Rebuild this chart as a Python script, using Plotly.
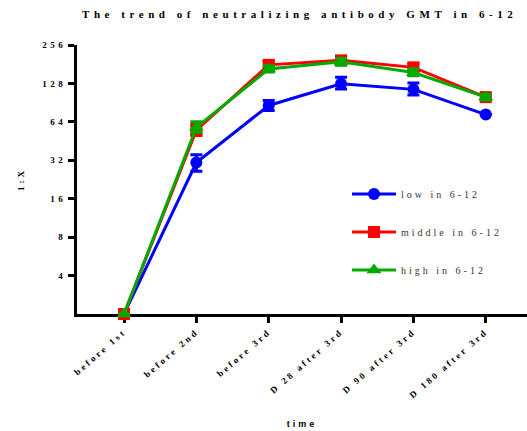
import math
import plotly.graph_objects as go

# Sampling time points
time_points = ["before 1st", "before 2nd", "before 3rd",
               "D 28 after 3rd", "D 90 after 3rd", "D 180 after 3rd"]

# GMT (1:X) per dose group
low_gmt = [2, 30.7, 86, 127, 115, 73]
low_err_plus = [0, 4.6, 8, 16, 14, 0]
low_err_minus = [0, 4.5, 7.5, 11, 11, 0]

middle_gmt = [2, 55, 179, 194, 171, 100]
middle_err_plus = [0, 6, 12, 13, 12, 6]
middle_err_minus = [0, 5, 11, 12, 11, 5]

high_gmt = [2, 58, 166, 189, 156, 100]
high_err_plus = [0, 6, 10, 12, 10, 5]
high_err_minus = [0, 5, 9, 11, 9, 5]

y_ticks = [4, 8, 16, 32, 64, 128, 256]

series = [
    ("low in 6-12", low_gmt, low_err_plus, low_err_minus, "#0000ff", "circle", 12),
    ("middle in 6-12", middle_gmt, middle_err_plus, middle_err_minus, "#ff0000", "square", 12),
    ("high in 6-12", high_gmt, high_err_plus, high_err_minus, "#00aa00", "triangle-up", 13),
]

serif = "Liberation Serif, Times New Roman, serif"
sans = "Liberation Sans, Arial, sans-serif"

fig = go.Figure()
for i, (name, vals, ep, em, color, symbol, size) in enumerate(series):
    fig.add_trace(go.Scatter(
        x=list(range(len(time_points))), y=vals, name=name,
        mode="lines+markers", legendgroup=f"g{i}",
        line=dict(color=color, width=3),
        marker=dict(color=color, symbol=symbol, size=size),
        error_y=dict(type="data", symmetric=False, array=ep, arrayminus=em,
                     color=color, thickness=3, width=6),
        cliponaxis=False,
    ))

fig.update_layout(
    width=527, height=431,
    margin=dict(l=77, r=0, t=45, b=117),
    paper_bgcolor="white", plot_bgcolor="white",
    font=dict(family=serif, color="black"),
    title=dict(text="<b>The trend of neutralizing antibody GMT in 6-12</b>",
               x=82 / 527, xanchor="left", xref="container", y=0.967, yanchor="middle",
               font=dict(size=11, family=serif, color="black")),
    xaxis=dict(
        range=[-0.65, 5.57], tickmode="array",
        tickvals=list(range(len(time_points))),
        ticktext=[f"<b>{t}</b>" for t in time_points],
        tickangle=-41, showgrid=False, zeroline=False,
        showline=True, linecolor="black", linewidth=3, layer="below traces",
        ticks="outside", ticklen=6, tickwidth=3, tickcolor="black",
        tickfont=dict(size=9, family=serif),
        title=dict(text="<b>time</b>", font=dict(size=9, family=sans), standoff=50),
    ),
    yaxis=dict(
        type="log", range=[math.log10(2) - 1e-6, math.log10(256)],
        tickmode="array", tickvals=y_ticks,
        ticktext=[f"<b>{v}</b>" for v in y_ticks],
        showgrid=False, zeroline=False,
        showline=True, linecolor="black", linewidth=3, layer="below traces",
        ticks="outside", ticklen=6, tickwidth=3, tickcolor="black",
        tickfont=dict(size=9, family=serif),
        title=dict(text="<b>1:X</b>", font=dict(size=9, family=serif), standoff=27),
    ),
    legend=dict(x=0.6, y=0.5, xanchor="left", yanchor="top",
                bgcolor="rgba(0,0,0,0)", tracegroupgap=19,
                font=dict(size=10, family=serif, color="#333333"),
                itemwidth=44),
    showlegend=True,
)

spacing_js = """
function spread(){
  document.querySelectorAll('.gtitle').forEach(function(e){e.style.letterSpacing='4.55px';});
  document.querySelectorAll('.xtick text').forEach(function(e){e.style.letterSpacing='2.8px';});
  document.querySelectorAll('.ytick text').forEach(function(e){e.style.letterSpacing='3.5px';});
  document.querySelectorAll('.xtitle, .ytitle').forEach(function(e){e.style.letterSpacing='3px';});
  document.querySelectorAll('.legendtext').forEach(function(e){e.style.letterSpacing='3px';});
  document.querySelectorAll('.legend [clip-path]').forEach(function(e){e.removeAttribute('clip-path');});
}
spread();
"""

fig.write_html("out.html", post_script=spacing_js)
